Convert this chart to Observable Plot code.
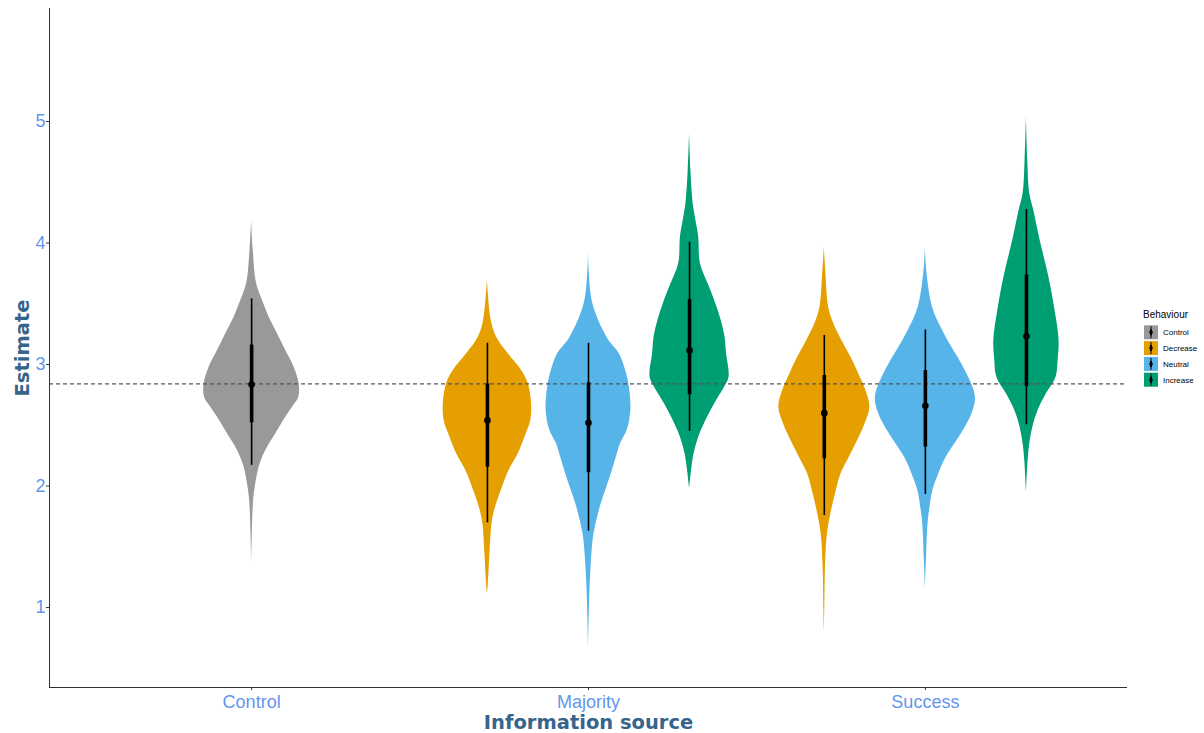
<!DOCTYPE html>
<html>
<head>
<meta charset="utf-8">
<script src="https://cdn.jsdelivr.net/npm/d3@7"></script>
<script src="https://cdn.jsdelivr.net/npm/@observablehq/plot@0.6"></script>
<style>
  body { margin: 0; background: #ffffff; }
  #chart { position: relative; width: 1204px; height: 733px; }
  #legend { position: absolute; left: 1136px; top: 300px; }
</style>
</head>
<body>
<div id="chart"><svg id="legend" width="68" height="100"></svg></div>
<script>
// Information sources on the x axis and behaviour groups (fill colours)
const sources = ["Control", "Majority", "Success"];
const behaviours = ["Control", "Decrease", "Neutral", "Increase"];
const behaviourColors = ["#999999", "#E69F00", "#56B4E9", "#009E73"];
const yTicks = [1, 2, 3, 4, 5];

// One entry per violin
const groupSource    = ["Control", "Majority", "Majority", "Majority", "Success", "Success", "Success"];
const groupBehaviour = ["Control", "Decrease", "Neutral", "Increase", "Decrease", "Neutral", "Increase"];

// Posterior summaries: median, 66% and 95% intervals
const medians = [2.835, 2.54, 2.52, 3.115, 2.60, 2.66, 3.233];
const lower66 = [2.52, 2.155, 2.11, 2.753, 2.224, 2.32, 2.819];
const upper66 = [3.16, 2.84, 2.85, 3.535, 2.91, 2.95, 3.738];
const lower95 = [2.17, 1.697, 1.628, 2.45, 1.757, 1.93, 2.504];
const upper95 = [3.54, 3.175, 3.175, 4.007, 3.239, 3.285, 4.276];

// Mean estimate of the control condition (reference line)
const controlMean = 2.84;

// Density profiles: [estimate, relative density]
const densityControl = [
  [4.185, 0], [3.938, 0.033], [3.664, 0.10], [3.527, 0.217], [3.390, 0.35], [3.253, 0.517],
  [3.115, 0.683], [2.978, 0.85], [2.841, 0.95], [2.731, 0.943], [2.649, 0.817], [2.566, 0.683],
  [2.430, 0.483], [2.292, 0.283], [2.155, 0.15], [2.018, 0.083], [1.881, 0.04], [1.607, 0.013], [1.373, 0]
];
const densityMajorityDecrease = [
  [3.691, 0], [3.362, 0.077], [3.225, 0.183], [3.088, 0.417], [2.951, 0.683], [2.841, 0.817],
  [2.676, 0.883], [2.539, 0.867], [2.402, 0.75], [2.265, 0.617], [2.128, 0.433], [1.991, 0.30],
  [1.853, 0.183], [1.716, 0.10], [1.442, 0.05], [1.167, 0.013], [1.113, 0]
];
const densityMajorityNeutral = [
  [3.94, 0], [3.774, 0.013], [3.50, 0.087], [3.225, 0.367], [3.088, 0.617], [2.951, 0.743],
  [2.814, 0.817], [2.622, 0.847], [2.457, 0.773], [2.348, 0.64], [2.238, 0.557], [2.128, 0.477],
  [1.991, 0.367], [1.853, 0.253], [1.716, 0.167], [1.579, 0.10], [1.305, 0.047], [1.030, 0.02], [0.660, 0]
];
const densityMajorityIncrease = [
  [4.899, 0], [4.597, 0.027], [4.323, 0.073], [4.185, 0.127], [4.048, 0.183], [3.829, 0.217],
  [3.636, 0.40], [3.499, 0.527], [3.362, 0.633], [3.225, 0.71], [3.088, 0.74], [2.896, 0.79],
  [2.813, 0.70], [2.676, 0.50], [2.539, 0.327], [2.402, 0.183], [2.265, 0.09], [2.128, 0.04], [1.977, 0]
];
const densitySuccessDecrease = [
  [3.965, 0], [3.746, 0.033], [3.472, 0.087], [3.335, 0.19], [3.198, 0.35], [3.060, 0.533],
  [2.923, 0.69], [2.786, 0.833], [2.649, 0.91], [2.512, 0.817], [2.374, 0.667], [2.237, 0.50],
  [2.100, 0.333], [1.963, 0.24], [1.826, 0.16], [1.689, 0.093], [1.551, 0.05], [1.277, 0.02],
  [1.002, 0.01], [0.784, 0]
];
const densitySuccessNeutral = [
  [3.960, 0], [3.746, 0.033], [3.472, 0.143], [3.335, 0.277], [3.198, 0.45], [3.060, 0.65],
  [2.923, 0.833], [2.786, 0.973], [2.704, 1.0], [2.594, 0.933], [2.484, 0.80], [2.374, 0.633],
  [2.237, 0.417], [2.100, 0.267], [1.963, 0.15], [1.826, 0.093], [1.689, 0.053], [1.414, 0.023], [1.154, 0]
];
const densitySuccessIncrease = [
  [5.036, 0], [4.679, 0.027], [4.405, 0.067], [4.267, 0.147], [3.993, 0.29], [3.719, 0.45],
  [3.444, 0.573], [3.198, 0.653], [3.033, 0.633], [2.896, 0.593], [2.759, 0.40], [2.621, 0.233],
  [2.484, 0.127], [2.347, 0.067], [2.210, 0.033], [1.949, 0]
];
const densities = [
  densityControl, densityMajorityDecrease, densityMajorityNeutral, densityMajorityIncrease,
  densitySuccessDecrease, densitySuccessNeutral, densitySuccessIncrease
];

// Layout of the dodged violins
const dodgeWidth = 0.3;        // x units between neighbouring violins
const halfWidthScale = 0.1484; // x units of half-width per unit of density

const groups = groupSource.map((s, i) => {
  const members = groupBehaviour.filter((b, j) => groupSource[j] === s);
  const rank = members.indexOf(groupBehaviour[i]);
  const xc = sources.indexOf(s) + 1 + (rank - (members.length - 1) / 2) * dodgeWidth;
  return {
    id: i, source: s, behaviour: groupBehaviour[i], xc,
    median: medians[i], lo66: lower66[i], hi66: upper66[i], lo95: lower95[i], hi95: upper95[i]
  };
});

const violinRows = groups.flatMap(g => densities[g.id].map(([v, d]) => ({
  id: g.id, behaviour: g.behaviour, y: v,
  x1: g.xc - d * halfWidthScale, x2: g.xc + d * halfWidthScale
})));

const tickColor = "#6495ED";
const titleColor = "#36648B";

const chart = Plot.plot({
  width: 1204,
  height: 733,
  marginLeft: 49,
  marginRight: 77,
  marginTop: 8,
  marginBottom: 46,
  style: { fontFamily: "'Liberation Sans', Arial, sans-serif", background: "#ffffff" },
  x: { domain: [0.4, 3.6], label: null },
  y: { domain: [0.342, 5.93], label: null },
  color: { domain: behaviours, range: behaviourColors },
  marks: [
    Plot.areaX(violinRows, { y: "y", x1: "x1", x2: "x2", z: "id", fill: "behaviour", curve: "catmull-rom" }),
    Plot.ruleY([controlMean], { stroke: "#555555", strokeWidth: 1.2, strokeDasharray: "4,3" }),
    Plot.ruleX(groups, { x: "xc", y1: "lo95", y2: "hi95", stroke: "#000000", strokeWidth: 1.6 }),
    Plot.ruleX(groups, { x: "xc", y1: "lo66", y2: "hi66", stroke: "#000000", strokeWidth: 3.6 }),
    Plot.dot(groups, { x: "xc", y: "median", r: 3.3, fill: "#000000" }),
    // axis lines
    Plot.ruleX([0.4], { stroke: "#333333", strokeWidth: 1 }),
    Plot.ruleY([0.342], { stroke: "#333333", strokeWidth: 1 }),
    // tick marks
    Plot.axisX({ ticks: [1, 2, 3], tickSize: 3, tickFormat: () => "", color: "#333333", label: null }),
    Plot.axisY({ ticks: yTicks, tickSize: 3, tickFormat: () => "", color: "#333333", label: null }),
    // tick labels
    Plot.axisX({ ticks: [1, 2, 3], tickSize: 0, tickPadding: 8, tickFormat: i => sources[i - 1],
      fontSize: 18, color: tickColor, label: null }),
    Plot.axisY({ ticks: yTicks, tickSize: 0, tickPadding: 4, tickFormat: d => String(d),
      fontSize: 18, color: tickColor, label: null }),
    // axis titles
    Plot.text(["Information source"], { text: d => d, frameAnchor: "bottom", textAnchor: "middle",
      lineAnchor: "middle", dy: 35,
      fontSize: 19.5, fontWeight: "bold", fontFamily: "'DejaVu Sans', sans-serif", fill: titleColor }),
    Plot.text(["Estimate"], { text: d => d, frameAnchor: "left", textAnchor: "middle",
      lineAnchor: "middle", rotate: -90, dx: -27,
      fontSize: 19.5, fontWeight: "bold", fontFamily: "'DejaVu Sans', sans-serif", fill: titleColor })
  ]
});
document.getElementById("chart").prepend(chart);

// Legend: Behaviour keys with interval glyphs
const legend = d3.select("#legend");
const lx = 8, ly = 25.3, keySize = 14, keyStep = 15.8;
legend.append("text").attr("x", lx - 1).attr("y", 18.3)
  .attr("font-family", "'Liberation Sans', Arial, sans-serif").attr("font-size", 10).attr("fill", "#000")
  .text("Behaviour");
behaviours.forEach((b, i) => {
  const y0 = ly + i * keyStep;
  const g = legend.append("g");
  g.append("rect").attr("x", lx).attr("y", y0).attr("width", keySize).attr("height", keySize)
    .attr("fill", behaviourColors[i]);
  g.append("line").attr("x1", lx + keySize / 2).attr("x2", lx + keySize / 2)
    .attr("y1", y0 + 1).attr("y2", y0 + keySize - 1).attr("stroke", "#000").attr("stroke-width", 1);
  g.append("line").attr("x1", lx + keySize / 2).attr("x2", lx + keySize / 2)
    .attr("y1", y0 + 4).attr("y2", y0 + keySize - 4).attr("stroke", "#000").attr("stroke-width", 2);
  g.append("circle").attr("cx", lx + keySize / 2).attr("cy", y0 + keySize / 2).attr("r", 1.8).attr("fill", "#000");
  g.append("text").attr("x", lx + keySize + 5).attr("y", y0 + keySize / 2).attr("dy", "0.35em")
    .attr("font-family", "'Liberation Sans', Arial, sans-serif").attr("font-size", 8).attr("fill", "#000")
    .text(b);
});
</script>
</body>
</html>
